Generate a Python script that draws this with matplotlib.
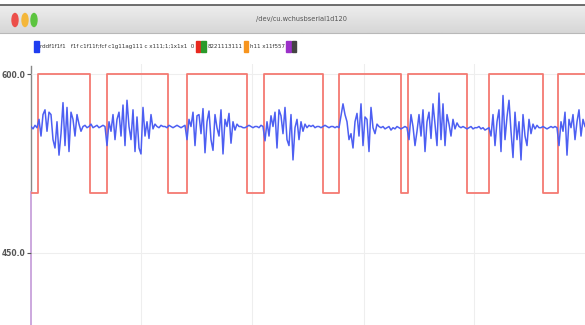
"""
plot.py
-------
Serial-plotter style screenshot: a noisy sensor trace (blue) riding on a
square gate signal (red), drawn inside a fake macOS window frame.
"""

import matplotlib
matplotlib.use("Agg")
import matplotlib.pyplot as plt
import numpy as np
from matplotlib.patches import Ellipse, Rectangle

# ----------------------------- DATA -----------------------------
WINDOW_TITLE = "/dev/cu.wchusbserial1d120"

# blue trace, one value per sample
blue_vals = [
    556, 554, 557, 555,
    562, 548, 566, 570, 552, 568, 566, 545, 538, 560, 532, 550, 576, 540,
    572, 535, 568, 562, 548, 566, 558, 552,
    556, 557, 555, 556, 558, 555, 556, 557, 555, 556, 557, 556,
    540, 560, 552, 566, 545, 562, 568, 548, 574, 540, 578, 556, 545, 570,
    535, 564, 538, 533, 572, 548, 560, 546, 566, 554, 558,
    556, 555, 557, 556, 556, 555, 557, 556, 555, 556, 557, 556, 555, 556, 557,
    545, 562, 556, 568, 540, 565, 566, 550, 571, 534, 560, 569, 545, 536,
    566, 555, 548, 570, 533, 562, 556, 567, 542, 560, 553, 558, 556,
    556, 555, 555, 556, 557, 556, 555, 556, 556, 555, 557, 556,
    544, 560, 548, 565, 556, 568, 538, 570, 565, 550, 572, 545, 540, 566,
    528, 555, 562, 545, 560, 552, 558, 555, 557,
    556, 557, 555, 556, 556, 555, 556, 557, 556, 555, 556, 556, 555, 556, 555,
    565, 575, 566, 560, 545, 550, 538, 560, 567, 548, 575, 540, 564, 562,
    535, 572, 555, 550, 558, 556,
    555, 556, 554, 555, 556, 553, 555, 554, 556, 555, 554, 555, 556, 555,
    545, 566, 556, 540, 552, 566, 548, 570, 535, 560, 568, 546, 575, 558,
    540, 584, 545, 575, 540, 566, 558, 548, 562, 554, 559, 556,
    555, 556, 555, 554, 555, 556, 554, 555, 555, 556, 554, 555, 553, 554, 555,
    548, 566, 540, 560, 570, 535, 582, 545, 564, 578, 552, 530, 568, 545,
    560, 528, 566, 548, 540, 562, 550, 558, 554, 557, 555,
    555, 556, 555, 554, 555, 556, 555, 556, 555,
    540, 560, 552, 568, 532, 562, 555, 566, 545, 560, 570, 548, 562, 556,
]

# red square wave: sample where each level starts, and the level
red_edges = [0, 3.5, 29.5, 38, 68.5, 78, 108, 116.5, 146, 154, 185, 188.5,
             218, 229, 256, 263.5]
red_levels = [500, 600, 500, 600, 500, 600, 500, 600, 500, 600, 500, 600,
              500, 600, 500, 600]

y_ticks = [450, 600]
y_tick_labels = ["450.0", "600.0"]
x_grid = [55, 110.5, 166.5, 221.5]

# legend row: (colour swatches, text that follows them)
legend_items = [
    (["#1f3df0"], "rddf1f1f1   f1f c1f11f;fcf c1g11ag111 c x111;1;1x1x1  0"),
    (["#e8281e", "#2a9a2a"], "8221113111"),
    (["#f7941d"], "h11 x11f557"),
    (["#9b30c8", "#444444"], ""),
]
# ------------------------------------------------------------------

W, H = 585, 325
BLUE = "#4d5ff2"
RED = "#f47a72"
NARROW = ["Liberation Sans Narrow", "DejaVu Sans"]


def draw_chrome(bg):
    """Window frame: title bar with traffic lights, title and legend row."""
    # title bar gradient
    grad = np.linspace(0.93, 0.84, 50).reshape(-1, 1)
    bg.imshow(grad, cmap="gray", vmin=0, vmax=1, aspect="auto",
              extent=(0, W, 33, 5), zorder=1)
    bg.plot([0, W], [5, 5], color="#555555", lw=1.2, zorder=2)
    bg.plot([0, W], [33, 33], color="#b8b8b8", lw=0.8, zorder=2)

    for x, c in zip([15, 25, 34], ["#ec4f4a", "#f4b73a", "#5cc43f"]):
        bg.add_patch(Ellipse((x, 20), 6, 13, color=c, zorder=3))

    bg.text(302, 19.5, WINDOW_TITLE, ha="center", va="center", fontsize=4.8,
            color="#555555", family=NARROW, zorder=3)

    # legend row
    renderer = bg.figure.canvas.get_renderer()
    x = 34
    for colours, label in legend_items:
        for c in colours:
            bg.add_patch(Rectangle((x, 41), 4.5, 11, color=c, zorder=3))
            x += 5.5
        if label:
            t = bg.text(x + 0.5, 46.5, label, ha="left", va="center",
                        fontsize=4.0, color="#333333", family=NARROW, zorder=3)
            bb = t.get_window_extent(renderer=renderer)
            x += bb.width * W / bg.figure.bbox.width + 2


def main():
    fig = plt.figure(figsize=(W / 100, H / 100), dpi=100)

    bg = fig.add_axes([0, 0, 1, 1])
    bg.set_xlim(0, W)
    bg.set_ylim(H, 0)
    bg.axis("off")

    # plot area: left edge at px 31, top at px 64, down to the bottom
    left, top = 31, 64
    ax = fig.add_axes([left / W, 0, (W - left) / W, (H - top) / H])
    px_per_val = 179 / 150          # 600 -> y 74, 450 -> y 253
    ax.set_ylim(600 - (H - 74) / px_per_val, 600 + (74 - top) / px_per_val)
    ax.set_xlim(0, len(blue_vals) - 1)
    ax.patch.set_alpha(0)

    for s in ["top", "right", "bottom", "left"]:
        ax.spines[s].set_visible(False)

    ax.set_xticks(x_grid)
    ax.tick_params(axis="x", length=0, labelbottom=False)
    ax.set_yticks(y_ticks)
    ax.set_yticklabels(y_tick_labels, fontsize=5.5, fontweight="bold",
                       color="#555555", family=NARROW)
    ax.tick_params(axis="y", length=3, width=0.8, color="#555555", pad=1)
    ax.grid(True, color="#eeeeee", lw=0.8)
    ax.set_axisbelow(True)

    xs = np.arange(len(blue_vals))
    ax.plot(xs, blue_vals, color=BLUE, lw=1.1, zorder=3)

    red_x = red_edges + [len(blue_vals) - 1]
    red_y = red_levels + [red_levels[-1]]
    ax.step(red_x, red_y, where="post", color=RED, lw=1.3, zorder=2)

    draw_chrome(bg)
    # left axis line: grey on top, violet lower down
    bg.plot([left, left], [66, 192], color="#888888", lw=1, zorder=4)
    bg.plot([left, left], [192, H], color="#c39ad8", lw=1.2, zorder=4)

    fig.savefig("out.png", dpi=100)
    plt.close(fig)


if __name__ == "__main__":
    main()
